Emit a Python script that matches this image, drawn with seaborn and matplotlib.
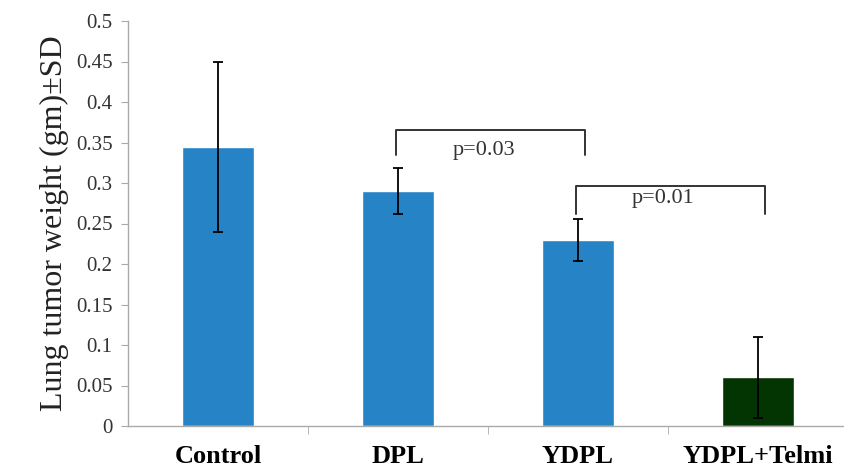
import numpy as np
import pandas as pd
import matplotlib
matplotlib.use('Agg')
import matplotlib.pyplot as plt
import seaborn as sns

# ---------------------------- DATA ----------------------------
groups = ['Control', 'DPL', 'YDPL', 'YDPL+Telmi']
weights = [0.345, 0.290, 0.230, 0.060]
sd = [0.105, 0.028, 0.026, 0.050]
bar_colors = ['#2683C6', '#2683C6', '#2683C6', '#023502']

# significance brackets: (left group, right group, top, leg bottom, text y, label)
brackets = [(1, 2, 0.365, 0.335, 0.340, 'p=0.03'),
            (2, 3, 0.296, 0.262, 0.281, 'p=0.01')]

yticks = [0, 0.05, 0.1, 0.15, 0.2, 0.25, 0.3, 0.35, 0.4, 0.45, 0.5]

# ---------------------------- PLOT ----------------------------
sns.set_style('white')
plt.rcParams['font.family'] = ['Liberation Serif', 'DejaVu Serif']

df = pd.DataFrame({'group': groups, 'weight': weights})

fig = plt.figure(figsize=(8.44, 4.72), dpi=100)
ax = fig.add_axes([128 / 844, 1 - 426 / 472, 716 / 844, (426 - 21) / 472])

sns.barplot(data=df, x='group', y='weight', hue='group', palette=bar_colors,
            width=0.4, legend=False, saturation=1, ax=ax)

ax.errorbar(range(len(groups)), weights, yerr=sd, fmt='none',
            ecolor='black', elinewidth=1.3, capsize=3.5, capthick=1.3)

# brackets with p-values
for a, b, top, bottom, ty, label in brackets:
    xa, xb = a - 0.01, b + 0.04
    ax.plot([xa, xa, xb, xb], [bottom, top, top, bottom], color='#333333', lw=1.4,
            solid_joinstyle='round', solid_capstyle='round')
    ax.text((xa + xb) / 2 - 0.04, ty, label,
            ha='center', va='center', fontsize=16, color='#333333')

ax.set_xlim(-0.5, 716 / 180 - 0.5)
ax.set_ylim(0, 0.5)
ax.set_yticks(yticks)
ax.set_yticklabels([f'{v:g}' for v in yticks], fontsize=15, color='#333333')
ax.set_xticks(range(len(groups)))
ax.set_xticklabels(groups, fontsize=19, fontweight='bold', color='black')
ax.set_xticks([0.5, 1.5, 2.5], minor=True)
ax.tick_params(axis='x', which='major', length=0, pad=14)
ax.tick_params(axis='x', which='minor', length=6, color='#AAAAAA', bottom=True)
ax.tick_params(axis='y', length=5, color='#AAAAAA', left=True, pad=6)

ax.set_xlabel('')
ax.set_ylabel('Lung tumor weight (gm)\u00b1SD', fontsize=23, color='#222222', labelpad=5)

sns.despine(ax=ax, top=True, right=True)
for side in ['left', 'bottom']:
    ax.spines[side].set_color('#AAAAAA')
    ax.spines[side].set_linewidth(1)

fig.savefig('out.png', dpi=100)
